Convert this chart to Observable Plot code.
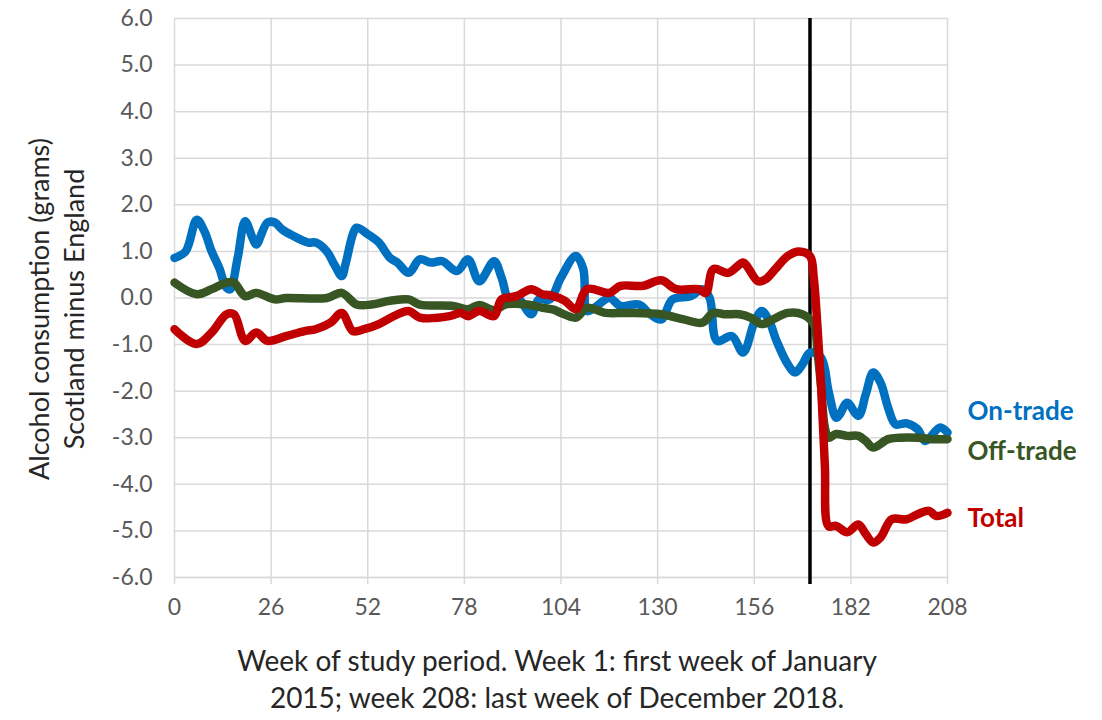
<!DOCTYPE html>
<html>
<head>
<meta charset="utf-8">
<script src="https://cdn.jsdelivr.net/npm/d3@7"></script>
<script src="https://cdn.jsdelivr.net/npm/@observablehq/plot@0.6"></script>
<style>
  html, body { margin: 0; padding: 0; background: #fff; }
  #chart { width: 1102px; height: 720px; }
  svg { font-family: Lato, "Open Sans", sans-serif; }
</style>
</head>
<body>
<div id="chart"></div>
<script>
// ---- Data ----
const onTradeWeeks = [0,3,6,8,10,12,14,15,17,19,21,22,25,27,29,32,36,38,41,43,45,46,48,49,52,55,58,60,63,66,69,72,76,79,82,86,88,90,92,96,98,101,104,108,110,111,113,117,120,125,128,131,134,139,142,144,146,150,153,156,158,160,162,165,167,169,171,174,176,178,179,181,184,186,188,190,192,194,197,200,202,206,208];
const onTradeValues = [0.86,1.0,1.68,1.44,1.0,0.65,0.22,0.19,0.86,1.65,1.29,1.15,1.62,1.62,1.47,1.33,1.19,1.19,1.0,0.72,0.47,0.72,1.37,1.51,1.37,1.19,0.86,0.76,0.54,0.83,0.76,0.79,0.58,0.83,0.36,0.79,0.44,-0.03,0.04,-0.35,-0.03,-0.03,0.44,0.9,0.62,-0.28,-0.21,0.0,-0.17,-0.14,-0.35,-0.46,-0.03,0.04,0.19,0.0,-0.92,-0.82,-1.17,-0.53,-0.28,-0.49,-0.92,-1.42,-1.6,-1.42,-1.17,-1.28,-2.0,-2.57,-2.5,-2.25,-2.53,-2.07,-1.6,-1.82,-2.35,-2.71,-2.69,-2.82,-3.07,-2.78,-2.89];

const offTradeWeeks = [0,6,10,14,16,19,22,27,30,41,45,49,53,58,63,66,75,79,82,86,89,95,99,102,104,108,111,116,122,131,137,142,145,148,152,155,158,161,165,169,172,173,174,175,176,178,181,184,186,188,192,195,200,204,208];
const offTradeValues = [0.33,0.08,0.19,0.33,0.33,0.04,0.11,-0.03,0.0,0.0,0.11,-0.14,-0.14,-0.06,-0.03,-0.14,-0.17,-0.24,-0.15,-0.26,-0.14,-0.14,-0.21,-0.25,-0.32,-0.42,-0.21,-0.32,-0.32,-0.35,-0.46,-0.53,-0.32,-0.35,-0.35,-0.42,-0.56,-0.46,-0.32,-0.35,-0.56,-1.14,-1.92,-2.78,-3.0,-2.92,-2.96,-2.96,-3.07,-3.21,-3.03,-3.0,-3.0,-3.03,-3.03];

const totalWeeks = [0,6,10,14,16,19,22,25,30,35,38,42,45,48,51,55,59,63,66,74,77,79,82,86,88,92,96,99,101,105,108,111,117,120,126,131,135,141,143,145,149,153,154,157,159,162,165,168,171,172,173,174,175,176,178,181,184,186,188,190,193,197,200,203,205,208];
const totalValues = [-0.67,-0.99,-0.74,-0.35,-0.35,-0.92,-0.74,-0.92,-0.82,-0.71,-0.67,-0.53,-0.32,-0.71,-0.67,-0.56,-0.39,-0.28,-0.42,-0.39,-0.32,-0.39,-0.28,-0.39,-0.03,0.04,0.19,0.08,0.06,-0.06,-0.24,0.19,0.11,0.26,0.26,0.38,0.19,0.19,0.11,0.62,0.54,0.76,0.69,0.36,0.4,0.65,0.9,1.0,0.9,0.44,-0.6,-1.9,-3.6,-4.9,-4.89,-5.03,-4.86,-5.07,-5.25,-5.14,-4.75,-4.75,-4.64,-4.57,-4.68,-4.61];

const seriesNames = ["On-trade", "Off-trade", "Total"];
const seriesColors = ["#0070C0", "#375623", "#C00000"];
const legendY = [-2.45, -3.3, -4.74];

const xTicks = [0, 26, 52, 78, 104, 130, 156, 182, 208];
const yTicks = [6, 5, 4, 3, 2, 1, 0, -1, -2, -3, -4, -5, -6];
const policyWeek = 171;

const xLabel = "Week of study period. Week 1: first week of January\n2015; week 208: last week of December 2018.";
const yLabel = "Alcohol consumption (grams)\nScotland minus England";

// ---- Build tidy table ----
const toRows = (weeks, values, name) => weeks.map((w, i) => ({week: w, value: values[i], series: name}));
const rows = [
  ...toRows(onTradeWeeks, onTradeValues, "On-trade"),
  ...toRows(offTradeWeeks, offTradeValues, "Off-trade"),
  ...toRows(totalWeeks, totalValues, "Total")
];
const legendRows = seriesNames.map((s, i) => ({series: s, week: 208, value: legendY[i]}));

const chart = Plot.plot({
  width: 1102,
  height: 720,
  marginLeft: 174,
  marginRight: 155,
  marginTop: 18,
  marginBottom: 143,
  style: {fontFamily: "Lato, 'Open Sans', sans-serif", background: "#fff"},
  x: {domain: [0, 208], ticks: xTicks, label: null},
  y: {domain: [-6, 6], ticks: yTicks, label: null},
  color: {domain: seriesNames, range: seriesColors},
  marks: [
    Plot.gridX(xTicks, {stroke: "#d9d9d9", strokeOpacity: 1, strokeWidth: 1.5}),
    Plot.gridY(yTicks, {stroke: "#d9d9d9", strokeOpacity: 1, strokeWidth: 1.5}),
    Plot.axisX(xTicks, {tickSize: 7, stroke: "#d9d9d9", strokeWidth: 1.5, tickPadding: 14, fontSize: 23, fill: "#595959", label: null}),
    Plot.axisY(yTicks, {tickSize: 0, tickPadding: 22, fontSize: 23, fill: "#595959", tickFormat: d => d.toFixed(1), label: null}),
    Plot.ruleY([-6], {stroke: "#d9d9d9", strokeWidth: 1.5}),
    Plot.ruleX([policyWeek], {stroke: "#000", strokeWidth: 3.5, y1: -6.15, y2: 6}),
    Plot.line(rows, {x: "week", y: "value", stroke: "series", z: "series", strokeWidth: 8.5, curve: "catmull-rom", strokeLinejoin: "round", strokeLinecap: "round"}),
    Plot.text(legendRows, {x: "week", y: "value", text: "series", fill: "series", textAnchor: "start", dx: 20, fontSize: 26, fontWeight: "bold"}),
    Plot.text([xLabel], {frameAnchor: "bottom", textAnchor: "middle", dx: -4, dy: 68, lineAnchor: "top", lineHeight: 1.3, fontSize: 28, fill: "#262626"}),
    Plot.text([yLabel], {frameAnchor: "left", textAnchor: "middle", dx: -119, dy: 11, rotate: -90, lineAnchor: "middle", lineHeight: 1.3, fontSize: 27, fill: "#262626"})
  ]
});
document.getElementById("chart").append(chart);
</script>
</body>
</html>
